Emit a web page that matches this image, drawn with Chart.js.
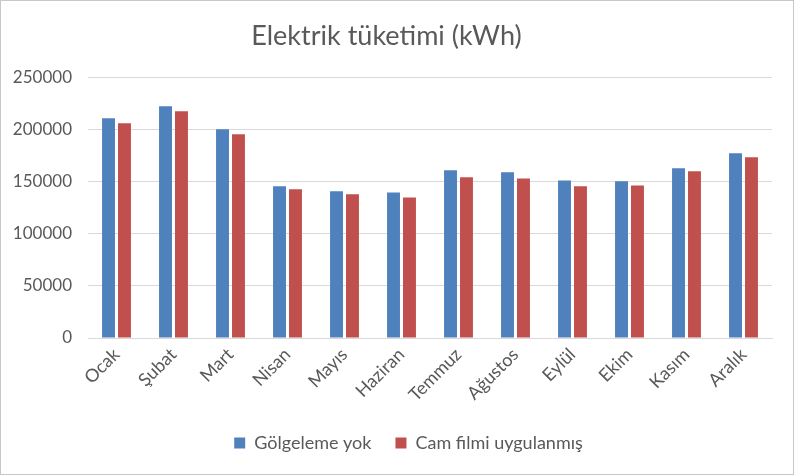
<!DOCTYPE html>
<html>
<head>
<meta charset="utf-8">
<script src="https://cdn.jsdelivr.net/npm/chart.js@4/dist/chart.umd.min.js"></script>
<style>
    html, body { margin: 0; padding: 0; background: #fff; }
    #wrap { width: 794px; height: 475px; box-sizing: border-box; border: 1px solid #c8c8c8; }
    canvas { display: block; }
</style>
</head>
<body>
<div id="wrap"><canvas id="chart" width="792" height="473"></canvas></div>
<script>
// Months (Turkish)
const months = ['Ocak', 'Şubat', 'Mart', 'Nisan', 'Mayıs', 'Haziran', 'Temmuz', 'Ağustos', 'Eylül', 'Ekim', 'Kasım', 'Aralık'];

// Consumption values (kWh)
const noShading = [210900, 222400, 200300, 145500, 140700, 139700, 160900, 158900, 151200, 150300, 162800, 177200];
const glassFilm = [206000, 217600, 195500, 142600, 137800, 134900, 154100, 153100, 145500, 146400, 159900, 173300];

const seriesNames = ['Gölgeleme yok', 'Cam filmi uygulanmış'];
const yTicks = [0, 50000, 100000, 150000, 200000, 250000];

const colors = {
    blue: '#4f81bd',
    red: '#c0504d',
    text: '#595959',
    grid: '#d9d9d9'
};
const font = 'Lato, "Open Sans", sans-serif';

// nudge the legend a bit right, like in the original
const legendShift = {
    id: 'legendShift',
    afterLayout: function(chart) {
        if (chart.legend) {
            chart.legend.left += 22;
            chart.legend.right += 22;
        }
    }
};

new Chart(document.getElementById('chart'), {
    type: 'bar',
    data: {
        labels: months,
        datasets: [
            { label: seriesNames[0], data: noShading, backgroundColor: colors.blue },
            { label: seriesNames[1], data: glassFilm, backgroundColor: colors.red }
        ]
    },
    plugins: [legendShift],
    options: {
        responsive: false,
        animation: false,
        layout: { padding: { left: 0, right: 21, top: 0, bottom: 12 } },
        datasets: {
            bar: { categoryPercentage: 0.56, barPercentage: 0.81 }
        },
        plugins: {
            title: {
                display: true,
                text: 'Elektrik tüketimi (kWh)',
                color: colors.text,
                font: { family: font, size: 27, weight: 'normal' },
                padding: { top: 19, bottom: 25 }
            },
            legend: {
                position: 'bottom',
                labels: {
                    color: colors.text,
                    font: { family: font, size: 18 },
                    boxWidth: 11,
                    boxHeight: 11,
                    padding: 24
                }
            },
            tooltip: { enabled: false }
        },
        scales: {
            x: {
                grid: { display: false, drawTicks: false },
                border: { color: colors.grid },
                ticks: {
                    color: colors.text,
                    font: { family: font, size: 18 },
                    minRotation: 45,
                    maxRotation: 45,
                    padding: 6
                },
                afterFit: function(scale) { scale.height = 72; }
            },
            y: {
                min: 0,
                max: 250000,
                afterBuildTicks: function(scale) {
                    scale.ticks = yTicks.map(v => ({ value: v }));
                },
                grid: { color: colors.grid, drawTicks: false },
                border: { display: false },
                ticks: {
                    color: colors.text,
                    font: { family: font, size: 17 },
                    padding: 16,
                    callback: function(value) { return String(value); }
                },
                afterFit: function(scale) { scale.width = 87; }
            }
        }
    }
});
</script>
</body>
</html>
